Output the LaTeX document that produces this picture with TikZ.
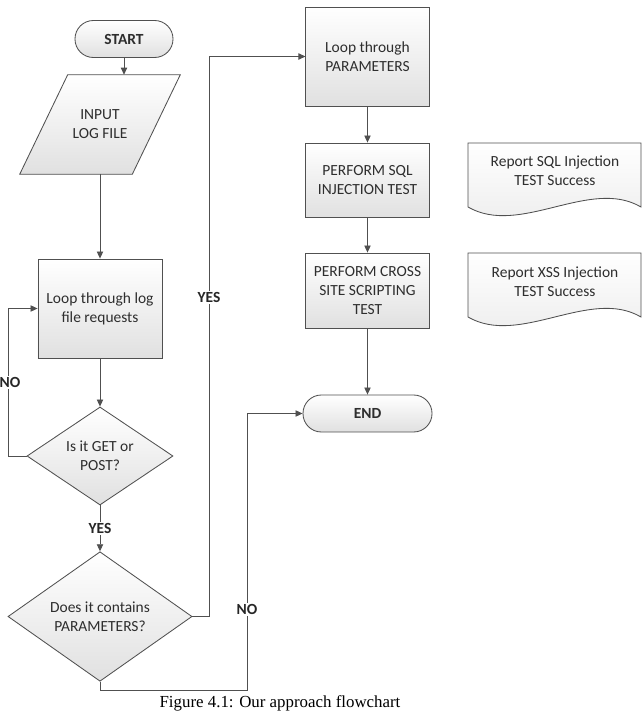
\documentclass[tikz,border=0pt]{standalone}
\usepackage{fontspec}
\setmainfont{Carlito}
\newfontfamily\capfont{Liberation Serif}
\usetikzlibrary{shapes.geometric,arrows.meta}
\definecolor{edgegray}{HTML}{505050}
\definecolor{txtgray}{HTML}{2e2e2e}

\begin{document}
\begin{tikzpicture}[x=0.025cm,y=-0.025cm,
  font=\fontsize{11}{13.5}\selectfont,
  box/.style={draw=edgegray, line width=0.6pt, top color=white, bottom color=black!12,
    align=center, text=txtgray, inner sep=0pt},
  proc/.style={box, rectangle, minimum width=3.08cm},
  term/.style={box, rectangle, rounded corners=0.46cm, minimum height=0.925cm,
    font=\fontsize{11}{13.5}\selectfont\bfseries},
  decision/.style={box, diamond},
  shadeonly/.style={draw=edgegray, line width=0.6pt, top color=white, bottom color=black!12},
  docshape/.style={draw=edgegray, line width=0.6pt, top color=white, bottom color=black!8},
  doctext/.style={align=center, text=txtgray},
  flow/.style={draw=edgegray, line width=0.6pt, -{Triangle[length=5pt,width=4.5pt]}},
  lbl/.style={fill=white, inner sep=1pt, font=\fontsize{11}{13.5}\selectfont\bfseries, text=black!85}]
\useasboundingbox (0,0) rectangle (642,724);

% left column
\node[term, minimum width=2.45cm] (start) at (124,39) {START};
\node[rectangle, minimum width=2.8cm, minimum height=2.475cm] (input) at (100,124.5) {};
\path[shadeonly] ([xshift=0.6cm]input.north west) -- ([xshift=0.6cm]input.north east)
  -- ([xshift=-0.6cm]input.south east) -- ([xshift=-0.6cm]input.south west) -- cycle;
\node[doctext] (inputtext) at (input) {INPUT\\LOG FILE};
\node[proc, minimum width=3.1cm, minimum height=2.475cm] (loop) at (100,308.5) {Loop through log\\file requests};
\node[decision, minimum width=3.65cm, minimum height=2.45cm] (q1) at (100,456) {Is it GET or\\POST?};
\node[decision, minimum width=4.6cm, minimum height=2.425cm] (q2) at (100,616.5) {Does it contains\\PARAMETERS?};

% right column
\node[proc, minimum height=2.475cm] (param) at (367.5,56.5) {Loop through\\PARAMETERS};
\node[proc, minimum height=1.85cm] (sql) at (367.5,180) {PERFORM SQL\\INJECTION TEST};
\node[proc, minimum height=1.875cm] (xss) at (367.5,290.5) {PERFORM CROSS\\SITE SCRIPTING\\TEST};
\node[term, minimum width=3.225cm] (stop) at (367.5,413.5) {END};

% reports
\path[docshape, shift={(555,171)}] (-87,-28) -- (86,-28) -- (86,36)
  .. controls (35,6) and (-35,66) .. (-87,36) -- cycle;
\node[doctext] (rsql) at (555,171) {Report SQL Injection\\TEST Success};
\path[docshape, shift={(555,282)}] (-87,-29) -- (86,-29) -- (86,35)
  .. controls (35,5) and (-35,65) .. (-87,35) -- cycle;
\node[doctext] (rxss) at (555,282) {Report XSS Injection\\TEST Success};

\coordinate (nobend) at (8,456);
\coordinate (yesbend) at (209,616.5);
\coordinate (nobot) at (100,690);
\coordinate (noright) at (247,690);

\path[flow] (start.south) -- (start.south |- input.north);
\path[flow] (input.south) -- (loop.north);
\path[flow] (loop) -- (q1);
\path[flow] (q1.west) -- (nobend) -- node[lbl, xshift=0.05cm]{NO} (nobend |- loop.west) -- (loop.west);
\path[flow] (q1) -- node[lbl]{YES} (q2);
\path[flow] (q2.east) -- (yesbend) -- node[lbl, pos=0.57]{YES} (yesbend |- param.west) -- (param.west);
\path[flow] (q2.south) -- (nobot) -- (noright) -- node[lbl, pos=0.29]{NO} (noright |- stop.west) -- (stop.west);
\path[flow] (param) -- (sql);
\path[flow] (sql) -- (xss);
\path[flow] (xss) -- (stop);

\node[font=\capfont\fontsize{12}{14}\selectfont] (caption) at (280,703) {Figure 4.1: Our approach flowchart};
\end{tikzpicture}
\end{document}
